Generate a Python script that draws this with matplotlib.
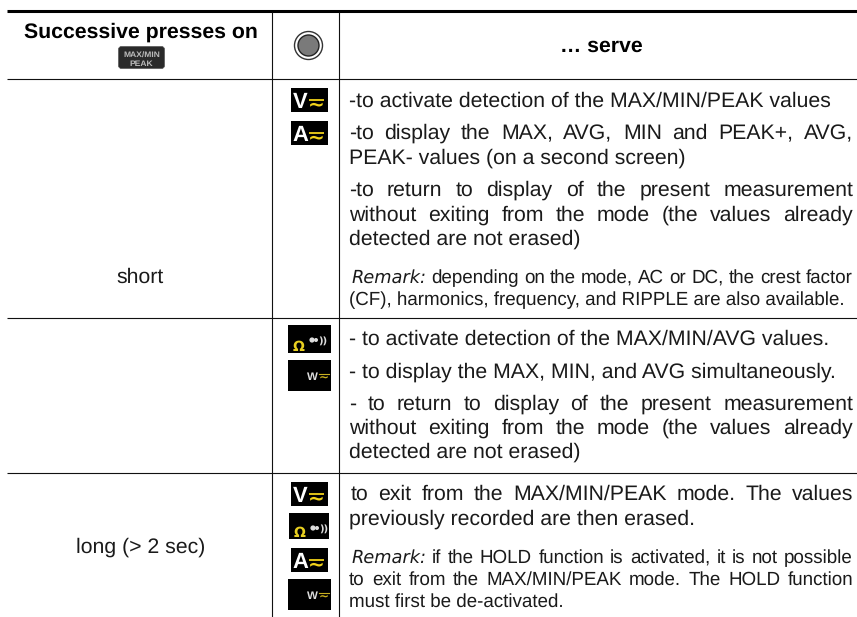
import matplotlib
matplotlib.use("Agg")
import matplotlib.pyplot as plt
from matplotlib.patches import Rectangle, Circle, FancyBboxPatch
from matplotlib.font_manager import FontProperties

plt.rcParams["text.hinting"] = "no_hinting"

W, H = 857, 617
FONT = "Liberation Sans"

header_cols = ["Successive presses on", "… serve"]
button_label = ["MAX/MIN", "PEAK"]
row_labels = ["short", "long (> 2 sec)"]

B = 21.3  # body size in px
S = 18.8  # remark size in px
# (text, x, baseline y, justified?, size px)
body_lines = [
    ("-to activate detection of the MAX/MIN/PEAK values", 349, 107, False, B),
    ("-to display the MAX, AVG, MIN and PEAK+, AVG,", 349, 139, True, B),
    ("PEAK- values (on a second screen)", 349, 164, False, B),
    ("-to return to display of the present measurement", 349, 196, True, B),
    ("without exiting from the mode (the values already", 349, 221, True, B),
    ("detected are not erased)", 349, 245, False, B),
    ("depending on the mode, AC or DC, the crest factor", 431, 283, True, S),
    ("(CF), harmonics, frequency, and RIPPLE are also available.", 349, 305, False, S),
    ("- to activate detection of the MAX/MIN/AVG values.", 349, 345, False, B),
    ("- to display the MAX, MIN, and AVG simultaneously.", 349, 378, False, B),
    ("- to return to display of the present measurement", 349, 410, True, B),
    ("without exiting from the mode (the values already", 349, 434, True, B),
    ("detected are not erased)", 349, 458, False, B),
    ("to exit from the MAX/MIN/PEAK mode. The values", 351, 500, True, B),
    ("previously recorded are then erased.", 349, 525, False, B),
    ("if the HOLD function is activated, it is not possible", 432, 563, True, S),
    ("to exit from the MAX/MIN/PEAK mode. The HOLD function", 349, 585, True, S),
    ("must first be de-activated.", 349, 607, False, S),
]
remark_positions = [(352, 283), (352, 563)]
remark_label = "Remark:"

fig = plt.figure(figsize=(W / 100, H / 100), dpi=100, facecolor="white")
ax = fig.add_axes([0, 0, 1, 1])
ax.set_xlim(0, W)
ax.set_ylim(H, 0)
ax.axis("off")
rend = fig.canvas.get_renderer()
RIGHT = 853


def px(s):
    return s * 0.72


def measure(s, size, weight="normal"):
    fp = FontProperties(family=FONT, size=px(size), weight=weight)
    return rend.get_text_width_height_descent(s, fp, False)


def put(x, y, s, size=B, **kw):
    """Draw text so that its baseline lands on pixel row y whatever its extents."""
    kw.setdefault("color", "#1a1a1a")
    kw.setdefault("family", FONT)
    _, h, d = measure(s, size, kw.get("weight", "normal"))
    yy = y + int(h) - int(h - d) - d
    return ax.text(x, yy, s, fontsize=px(size), va="baseline", **kw)


def draw_line(s, x, y, justify, size):
    if not justify:
        put(x, y, s, size)
        return
    parts = s.split(" ")
    widths = [measure(p, size)[0] for p in parts]
    gap = (RIGHT - x - sum(widths)) / (len(parts) - 1)
    cx = x
    for p, w in zip(parts, widths):
        put(cx, y, p, size)
        cx += w + gap


# rules
ax.plot([7, W], [10.5, 10.5], color="black", lw=2.2, solid_capstyle="butt")
for yy in (78.5, 317.5, 472.5):
    ax.plot([7, W], [yy, yy], color="#111111", lw=0.8, solid_capstyle="butt")
for xx in (272.5, 339.5):
    ax.plot([xx, xx], [12, H], color="#111111", lw=0.8, solid_capstyle="butt")

# header
put(140.5, 38, header_cols[0], B, ha="center", weight="bold", color="black")
put(601.5, 52, header_cols[1], B, ha="center", weight="bold", color="black")
ax.add_patch(FancyBboxPatch((118.5, 46.5), 46, 22, boxstyle="round,pad=0,rounding_size=3",
                            fc="#2a2a2a", ec="#555555", lw=0.5))
put(141.5, 57, button_label[0], 8.5, ha="center", weight="bold", color="#bbbbbb")
put(141.5, 66, button_label[1], 8.5, ha="center", weight="bold", color="#bbbbbb")
ax.add_patch(Circle((308.5, 45.5), 14, fc="white", ec="#333333", lw=1.0))
ax.add_patch(Circle((308.5, 45.5), 10.5, fc="#7a7a7a", ec="#222222", lw=1.0))

# first column
put(140.5, 283, row_labels[0], B, ha="center")
put(140.5, 553, row_labels[1], B, ha="center")


def tilde(x, y, w):
    ax.plot([x, x + w], [y, y], color="#f2d21a", lw=1.3, solid_capstyle="butt")
    ax.text(x + w / 2, y + 11, "~", color="#f2d21a", fontsize=px(20), weight="bold",
            ha="center", va="baseline", family="DejaVu Sans")


def icon_va(x, y, letter):
    ax.add_patch(Rectangle((x, y), 37, 24, fc="black", ec="none"))
    ax.text(x + 9.5, y + 20, letter, color="white", fontsize=px(22), weight="bold",
            ha="center", va="baseline", family=FONT)
    tilde(x + 18, y + 12, 15)


def icon_ohm(x, y, w, h):
    ax.add_patch(Rectangle((x, y), w, h, fc="black", ec="none"))
    ax.text(x + 11, y + h - 2, "Ω", color="#e8cf20", fontsize=px(14), weight="bold",
            ha="center", va="baseline", family="DejaVu Sans")
    ax.add_patch(Circle((x + 24, y + 15), 2.6, fc="#dddddd", ec="none"))
    ax.add_patch(Circle((x + 28, y + 15), 2.0, fc="#dddddd", ec="none"))
    ax.text(x + 35, y + 19, "))", color="#dddddd", fontsize=px(10), ha="center",
            va="baseline", family="DejaVu Sans", weight="bold")


def icon_w(x, y, w, h):
    ax.add_patch(Rectangle((x, y), w, h, fc="black", ec="none"))
    ax.text(x + 24, y + 20, "W", color="#dddddd", fontsize=px(11.5), weight="bold",
            ha="center", va="baseline", family=FONT)
    ax.plot([x + 31, x + 41], [y + 14, y + 14], color="#c9b020", lw=0.8)
    ax.text(x + 36, y + 22, "~", color="#c9b020", fontsize=px(12), ha="center",
            va="baseline", family="DejaVu Sans", weight="bold")


icon_va(291, 88, "V")
icon_va(291, 121, "A")
icon_ohm(288, 325, 43, 28)
icon_w(288, 360, 43, 31)
icon_va(291, 482, "V")
icon_ohm(289, 513, 40, 26)
icon_va(291, 548, "A")
icon_w(288, 579, 43, 31)

# body text
for s, x, y, justify, size in body_lines:
    draw_line(s, x, y, justify, size)
for x, y in remark_positions:
    ax.text(x, y, remark_label, fontsize=px(17.8), va="baseline", style="italic",
            family="DejaVu Sans", color="#1a1a1a")

fig.savefig("out.png", dpi=100, facecolor="white")
